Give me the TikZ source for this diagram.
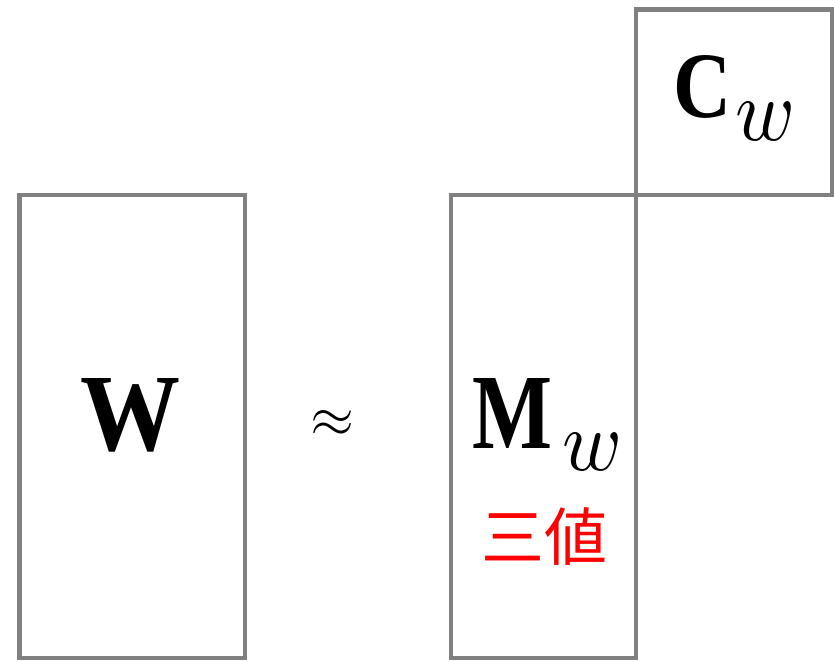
\documentclass[tikz,border=0pt]{standalone}
\usepackage{fontspec}
\usepackage{unicode-math}
\setmathfont{Latin Modern Math}
\newfontfamily\cjk{Noto Sans CJK JP}
\newfontfamily\bserif{Liberation Serif}
\definecolor{boxgray}{HTML}{808080}
\definecolor{redtxt}{HTML}{FF0000}
\tikzset{
  mbox/.style={draw=boxgray, line width=4.5pt},
  glyph/.style={inner sep=0pt, outer sep=0pt, anchor=base west},
}
\begin{document}
\begin{tikzpicture}[x=1pt,y=-1pt]
\useasboundingbox (0,0) rectangle (834,661);
% boxes
\draw[mbox] (19.5,195) rectangle (245,658);
\draw[mbox] (451,195) rectangle (636,658);
\draw[mbox] (636,9.5) rectangle (832,195);
% W
\node[glyph] (W) at (80,450) {\resizebox{100pt}{72pt}{\fontsize{100}{100}\bserif\bfseries W}};
% approx
\node[inner sep=0pt] (approx) at (333,423) {\resizebox{44pt}{!}{$\approx$}};
% M_w
\node[glyph] (M) at (472,448) {\resizebox{80pt}{70pt}{\fontsize{100}{100}\bserif\bfseries M}};
\node[glyph] (Mw) at (562,470) {\resizebox{58pt}{38pt}{$w$}};
% C_w
\node[glyph] (C) at (673,117) {\resizebox{58pt}{62pt}{\fontsize{100}{100}\bserif\bfseries C}};
\node[glyph] (Cw) at (735,140) {\resizebox{58pt}{39pt}{$w$}};
% ternary label
\node[inner sep=0pt, text=redtxt] (tern) at (544,537) {\fontsize{63}{63}\selectfont\cjk 三値};
\end{tikzpicture}
\end{document}
